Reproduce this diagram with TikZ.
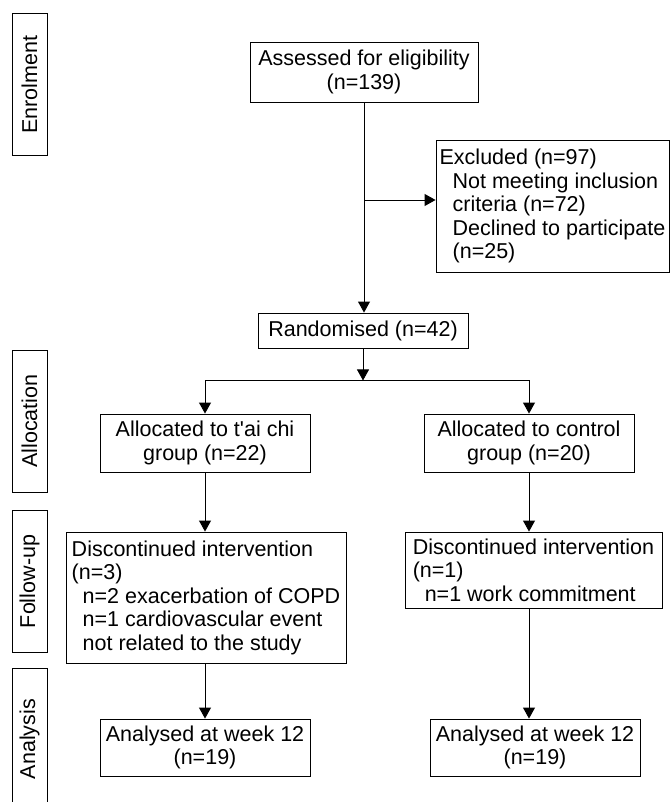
\documentclass[tikz,border=0pt]{standalone}
\usepackage{fontspec}
\setmainfont{Liberation Sans}
\usetikzlibrary{arrows.meta,calc,positioning}

\begin{document}
\begin{tikzpicture}[x=1pt,y=-1pt]

\tikzset{box/.style = {shape=rectangle,draw,line width=0.9pt,inner sep=0pt,font=\fontsize{21.5}{23.5}\selectfont}}
\tikzset{stage/.style = {box,rotate=90,minimum width=142pt,minimum height=35pt}}
\tikzset{edge/.style = {-{Triangle[length=11pt,width=12pt]},line width=0.9pt}}

\path[use as bounding box,fill=white] (0,0) rectangle (670,802);
\clip (0,0) rectangle (670,802);

% stages
\node[stage] (enrol) at (29.5,84.5) {Enrolment};
\node[stage] (alloc) at (29.5,421) {Allocation};
\node[stage] (follow) at (29.5,581.5) {Follow-up};
\node[stage] (anal) at (29.5,739) {Analysis};

% boxes
\node[box,align=center,minimum width=228pt,minimum height=60pt] (assess) at (364,72) {Assessed for eligibility\\(n=139)};
\node[box,align=left,minimum width=233pt,minimum height=132pt] (excl) at (552.5,206) {Excluded (n=97)\\\hspace*{13pt}Not meeting inclusion\\\hspace*{13pt}criteria (n=72)\\\hspace*{13pt}Declined to participate\\\hspace*{13pt}(n=25)};
\node[box,align=center,minimum width=210pt,minimum height=35pt] (rand) at (363,330.5) {Randomised (n=42)};
\node[box,align=center,minimum width=210pt,minimum height=58pt] (tai) at (205,443) {Allocated to t\textquotesingle ai chi\\group (n=22)};
\node[box,align=center,minimum width=210pt,minimum height=58pt] (ctrl) at (529,443) {Allocated to control\\group (n=20)};
\node[box,align=left,minimum width=280pt,minimum height=131pt] (taidisc) at (206,597.5) {Discontinued intervention\\(n=3)\\\hspace*{11pt}n=2 exacerbation of COPD\\\hspace*{11pt}n=1 cardiovascular event\\\hspace*{11pt}not related to the study};
\node[box,align=left,minimum width=257pt,minimum height=76pt] (ctrldisc) at (533.5,570) {Discontinued intervention\\(n=1)\\\hspace*{12pt}n=1 work commitment};
\node[box,align=center,minimum width=210pt,minimum height=57pt] (taiana) at (205,747.5) {Analysed at week 12\\(n=19)};
\node[box,align=center,minimum width=210pt,minimum height=57pt] (ctrlana) at (535,747.5) {Analysed at week 12\\(n=19)};

% edges
\coordinate (exj) at (364,200);
\coordinate (split) at ($(rand.south)+(0,32)$);
\draw[edge] (assess.south) -- (assess.south |- rand.north);
\draw[edge] (exj) -- (exj -| excl.west);
\draw[edge] (rand.south) -- (split);
\draw[edge] (split) -| (tai);
\draw[edge] (split) -| (ctrl);
\draw[edge] (tai) -- (tai |- taidisc.north);
\draw[edge] (tai |- taidisc.south) -- (tai |- taiana.north);
\draw[edge] (ctrl) -- (ctrl |- ctrldisc.north);
\draw[edge] (ctrl |- ctrldisc.south) -- (ctrl |- ctrlana.north);
\end{tikzpicture}
\end{document}
